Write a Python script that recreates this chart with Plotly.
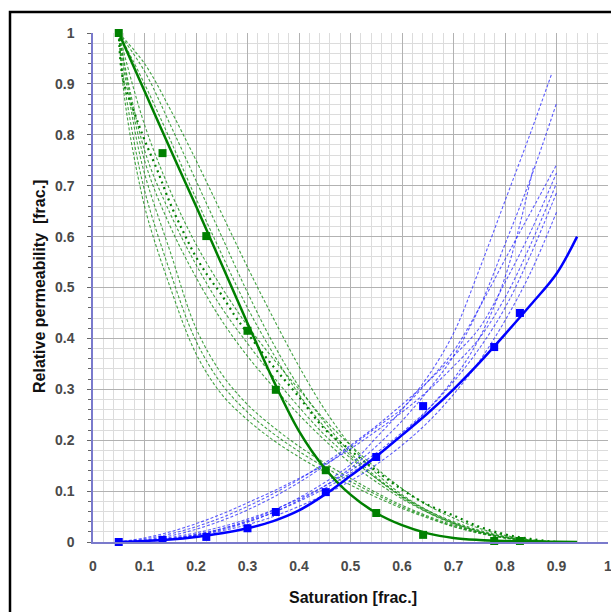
import plotly.graph_objects as go

# ---------------- measured points (markers) ----------------
sat_pts = [0.05, 0.135, 0.22, 0.30, 0.355, 0.452, 0.55, 0.641, 0.779, 0.829]
kro_pts = [1.0, 0.764, 0.601, 0.415, 0.299, 0.141, 0.057, 0.014, 0.002, 0.002]
krw_pts = [0.0, 0.004, 0.010, 0.027, 0.059, 0.098, 0.167, 0.267, 0.383, 0.450]

# ---------------- best-fit curves (solid) ----------------
sat_fit = [0.05, 0.1, 0.15, 0.2, 0.25, 0.3, 0.35, 0.4, 0.45, 0.5, 0.55, 0.6, 0.65,
           0.7, 0.75, 0.8, 0.85, 0.9, 0.94]
kro_fit = [1.0, 0.886, 0.772, 0.66, 0.545, 0.43, 0.318, 0.218, 0.145, 0.093, 0.057,
           0.033, 0.017, 0.008, 0.004, 0.002, 0.001, 0.0003, 0.0]
krw_fit = [0.0, 0.002, 0.005, 0.010, 0.017, 0.027, 0.041, 0.062, 0.093, 0.130, 0.168,
           0.210, 0.253, 0.300, 0.352, 0.408, 0.466, 0.527, 0.600]

# ---------------- oil realisations (green dashed) ----------------
go_x_a = [0.05, 0.058, 0.072, 0.091, 0.107, 0.15, 0.2, 0.25, 0.3, 0.35, 0.4, 0.45, 0.5,
          0.55, 0.6, 0.65, 0.7, 0.75, 0.8, 0.85, 0.9]
go_g1 = [1, 0.90, 0.80, 0.70, 0.633, 0.50, 0.37, 0.29, 0.24, 0.20, 0.167, 0.138, 0.112,
         0.088, 0.066, 0.047, 0.030, 0.017, 0.008, 0.002, 0]
go_g2 = [1, 0.92, 0.83, 0.73, 0.665, 0.53, 0.395, 0.31, 0.255, 0.213, 0.178, 0.147, 0.119,
         0.093, 0.069, 0.049, 0.031, 0.018, 0.008, 0.002, 0]
go_g3 = [1, 0.94, 0.86, 0.76, 0.70, 0.57, 0.42, 0.33, 0.27, 0.226, 0.188, 0.155, 0.125,
         0.097, 0.072, 0.051, 0.033, 0.019, 0.009, 0.003, 0]

go_x = [0.05, 0.1, 0.15, 0.2, 0.25, 0.3, 0.35, 0.4, 0.45, 0.5, 0.55, 0.6, 0.65, 0.7,
        0.75, 0.8, 0.85, 0.9]
go_b1 = [1, 0.77, 0.645, 0.545, 0.46, 0.39, 0.325, 0.265, 0.21, 0.165, 0.125, 0.09,
         0.062, 0.04, 0.023, 0.011, 0.004, 0]
go_b2 = [1, 0.75, 0.62, 0.52, 0.435, 0.365, 0.305, 0.25, 0.20, 0.155, 0.118, 0.085,
         0.058, 0.037, 0.021, 0.010, 0.003, 0]
go_b3 = [1, 0.82, 0.69, 0.585, 0.50, 0.425, 0.36, 0.30, 0.24, 0.19, 0.145, 0.105,
         0.072, 0.047, 0.027, 0.013, 0.005, 0]
go_r1 = [1, 0.90, 0.79, 0.675, 0.565, 0.46, 0.37, 0.29, 0.225, 0.17, 0.125, 0.088,
         0.058, 0.035, 0.019, 0.008, 0.002, 0]
go_r2 = [1, 0.925, 0.82, 0.71, 0.60, 0.49, 0.39, 0.305, 0.235, 0.175, 0.128, 0.09,
         0.06, 0.037, 0.02, 0.009, 0.003, 0]
go_r3 = [1, 0.94, 0.85, 0.75, 0.645, 0.54, 0.44, 0.345, 0.26, 0.19, 0.135, 0.093,
         0.062, 0.038, 0.021, 0.009, 0.003, 0]

go_d_x = [0.05, 0.058, 0.078, 0.1, 0.125, 0.15, 0.175, 0.2, 0.225, 0.25, 0.275, 0.3,
          0.35, 0.4, 0.45, 0.5, 0.55, 0.6, 0.65, 0.7, 0.75, 0.8, 0.85, 0.9]
go_d = [1, 0.91, 0.85, 0.79, 0.73, 0.665, 0.61, 0.56, 0.52, 0.485, 0.445, 0.41,
        0.345, 0.285, 0.222, 0.18, 0.14, 0.103, 0.073, 0.052, 0.03, 0.015, 0.006, 0]

# ---------------- water realisations (blue dashed) ----------------
bw_x = [0.05, 0.1, 0.15, 0.2, 0.25, 0.3, 0.35, 0.4, 0.45, 0.5, 0.55, 0.6, 0.65, 0.7,
        0.75, 0.8, 0.85, 0.9]
bw_w1_x = [0.05, 0.1, 0.15, 0.2, 0.25, 0.3, 0.35, 0.4, 0.45, 0.5, 0.55, 0.6, 0.65, 0.7,
           0.75, 0.8, 0.85, 0.891]
bw_w1 = [0, 0.002, 0.006, 0.014, 0.026, 0.042, 0.062, 0.087, 0.117, 0.152, 0.205,
         0.26, 0.325, 0.41, 0.535, 0.67, 0.805, 0.921]
bw_w2 = [0, 0.002, 0.006, 0.013, 0.024, 0.039, 0.058, 0.082, 0.11, 0.145, 0.188,
         0.238, 0.297, 0.365, 0.46, 0.585, 0.715, 0.862]
bw_w3 = [0, 0.004, 0.012, 0.025, 0.042, 0.063, 0.088, 0.117, 0.15, 0.187, 0.225,
         0.262, 0.315, 0.375, 0.46, 0.555, 0.648, 0.741]
bw_w4 = [0, 0.006, 0.016, 0.03, 0.048, 0.07, 0.095, 0.123, 0.155, 0.19, 0.228,
         0.27, 0.315, 0.365, 0.42, 0.51, 0.61, 0.725]
bw_w5 = [0, 0.008, 0.02, 0.036, 0.055, 0.077, 0.10, 0.125, 0.152, 0.183, 0.218,
         0.255, 0.297, 0.345, 0.40, 0.48, 0.585, 0.705]
bw_w6 = [0, 0.003, 0.009, 0.018, 0.03, 0.045, 0.063, 0.085, 0.11, 0.14, 0.175,
         0.215, 0.26, 0.315, 0.38, 0.46, 0.565, 0.686]
bw_w7 = [0, 0.002, 0.006, 0.013, 0.022, 0.034, 0.05, 0.07, 0.093, 0.12, 0.152,
         0.19, 0.235, 0.29, 0.355, 0.435, 0.53, 0.648]
bw_w8_x = [0.05, 0.1, 0.15, 0.2, 0.25, 0.3, 0.35, 0.4, 0.45, 0.5, 0.55, 0.6, 0.65,
           0.7, 0.75, 0.8, 0.855]
bw_w8 = [0, 0.002, 0.007, 0.015, 0.026, 0.04, 0.058, 0.08, 0.105, 0.135, 0.17,
         0.21, 0.26, 0.32, 0.40, 0.52, 0.735]

tick_vals = [0, 0.1, 0.2, 0.3, 0.4, 0.5, 0.6, 0.7, 0.8, 0.9, 1.0]
tick_text = ["0", "0.1", "0.2", "0.3", "0.4", "0.5", "0.6", "0.7", "0.8", "0.9", "1"]

GREEN = "#008000"
BLUE = "#0000ff"
GREEN_D = "rgba(20,140,20,0.8)"
BLUE_D = "rgba(40,40,255,0.75)"

fig = go.Figure()

# green dashed realisations
for xs, ys in [(go_x_a, go_g1), (go_x_a, go_g2), (go_x_a, go_g3),
               (go_x, go_b1), (go_x, go_b2), (go_x, go_b3),
               (go_x, go_r1), (go_x, go_r2), (go_x, go_r3)]:
    fig.add_trace(go.Scatter(x=xs, y=ys, mode="lines", line_shape="spline",
                             line=dict(color=GREEN_D, width=1.1, dash="3px,2px"),
                             hoverinfo="skip", showlegend=False))
fig.add_trace(go.Scatter(x=go_d_x, y=go_d, mode="lines", line_shape="spline",
                         line=dict(color=GREEN, width=2.2, dash="2px,4px"),
                         hoverinfo="skip", showlegend=False))

# blue dashed realisations
for xs, ys in [(bw_w1_x, bw_w1), (bw_x, bw_w2), (bw_x, bw_w3), (bw_x, bw_w4),
               (bw_x, bw_w5), (bw_x, bw_w6), (bw_x, bw_w7), (bw_w8_x, bw_w8)]:
    fig.add_trace(go.Scatter(x=xs, y=ys, mode="lines", line_shape="spline",
                             line=dict(color=BLUE_D, width=1.1, dash="3px,2px"),
                             hoverinfo="skip", showlegend=False))

# solid fits
fig.add_trace(go.Scatter(x=sat_fit, y=kro_fit, mode="lines", line_shape="spline",
                         line=dict(color=GREEN, width=2.5), showlegend=False))
fig.add_trace(go.Scatter(x=sat_fit, y=krw_fit, mode="lines", line_shape="spline",
                         line=dict(color=BLUE, width=2.5), showlegend=False))

# measured points
fig.add_trace(go.Scatter(x=sat_pts, y=kro_pts, mode="markers", cliponaxis=False,
                         marker=dict(symbol="square", size=8, color=GREEN),
                         showlegend=False))
fig.add_trace(go.Scatter(x=sat_pts, y=krw_pts, mode="markers", cliponaxis=False,
                         marker=dict(symbol="square", size=8, color=BLUE),
                         showlegend=False))

FONT = "Liberation Sans, Arial, sans-serif"
tick_font = dict(family=FONT, size=14, color="#4a4a4a", weight="bold")

fig.update_xaxes(range=[0, 1], tickvals=tick_vals, ticktext=tick_text,
                 showgrid=True, gridcolor="#b2b2b2", gridwidth=1,
                 minor=dict(dtick=0.02, showgrid=True, gridcolor="#dcdcdc", gridwidth=1),
                 zeroline=False, showline=True, linecolor="#7a7acc", linewidth=1.5,
                 ticks="", ticklabelstandoff=10, tickfont=tick_font,
                 ticklabeloverflow="allow")
fig.update_yaxes(range=[0, 1], tickvals=tick_vals, ticktext=tick_text,
                 showgrid=True, gridcolor="#b2b2b2", gridwidth=1,
                 minor=dict(dtick=0.02, showgrid=True, gridcolor="#dcdcdc", gridwidth=1,
                            ticks="outside", ticklen=3, tickcolor="#666666"),
                 zeroline=False, showline=True, linecolor="#7a7acc", linewidth=1.5,
                 ticks="outside", ticklen=4, tickcolor="#666666",
                 ticklabelstandoff=10, tickfont=tick_font, ticklabeloverflow="allow")

fig.update_layout(
    width=611, height=612,
    margin=dict(l=93, r=3, t=33, b=70, autoexpand=False),
    paper_bgcolor="white", plot_bgcolor="white",
    showlegend=False,
    annotations=[
        dict(text="<b>Saturation [frac.]</b>", xref="paper", yref="paper",
             x=(353 - 93) / 515, y=(542 - 597) / 509, xanchor="center", yanchor="middle",
             showarrow=False, font=dict(family=FONT, size=16, color="#111111")),
        dict(text="<b>Relative permeability  [frac.]</b>", xref="paper", yref="paper",
             x=(39 - 93) / 515, y=(542 - 287) / 509, xanchor="center", yanchor="middle",
             textangle=-90, showarrow=False,
             font=dict(family=FONT, size=16, color="#111111")),
    ],
    shapes=[
        dict(type="rect", xref="paper", yref="paper",
             x0=(10 - 93) / 515, x1=(625 - 93) / 515,
             y0=(542 - 625) / 509, y1=(542 - 12) / 509,
             line=dict(color="black", width=2.5), fillcolor="rgba(0,0,0,0)", layer="above"),
    ],
)

fig.write_html("out.html", config={"displayModeBar": False},
               post_script="document.body.style.margin='0';document.body.style.overflow='hidden';")
